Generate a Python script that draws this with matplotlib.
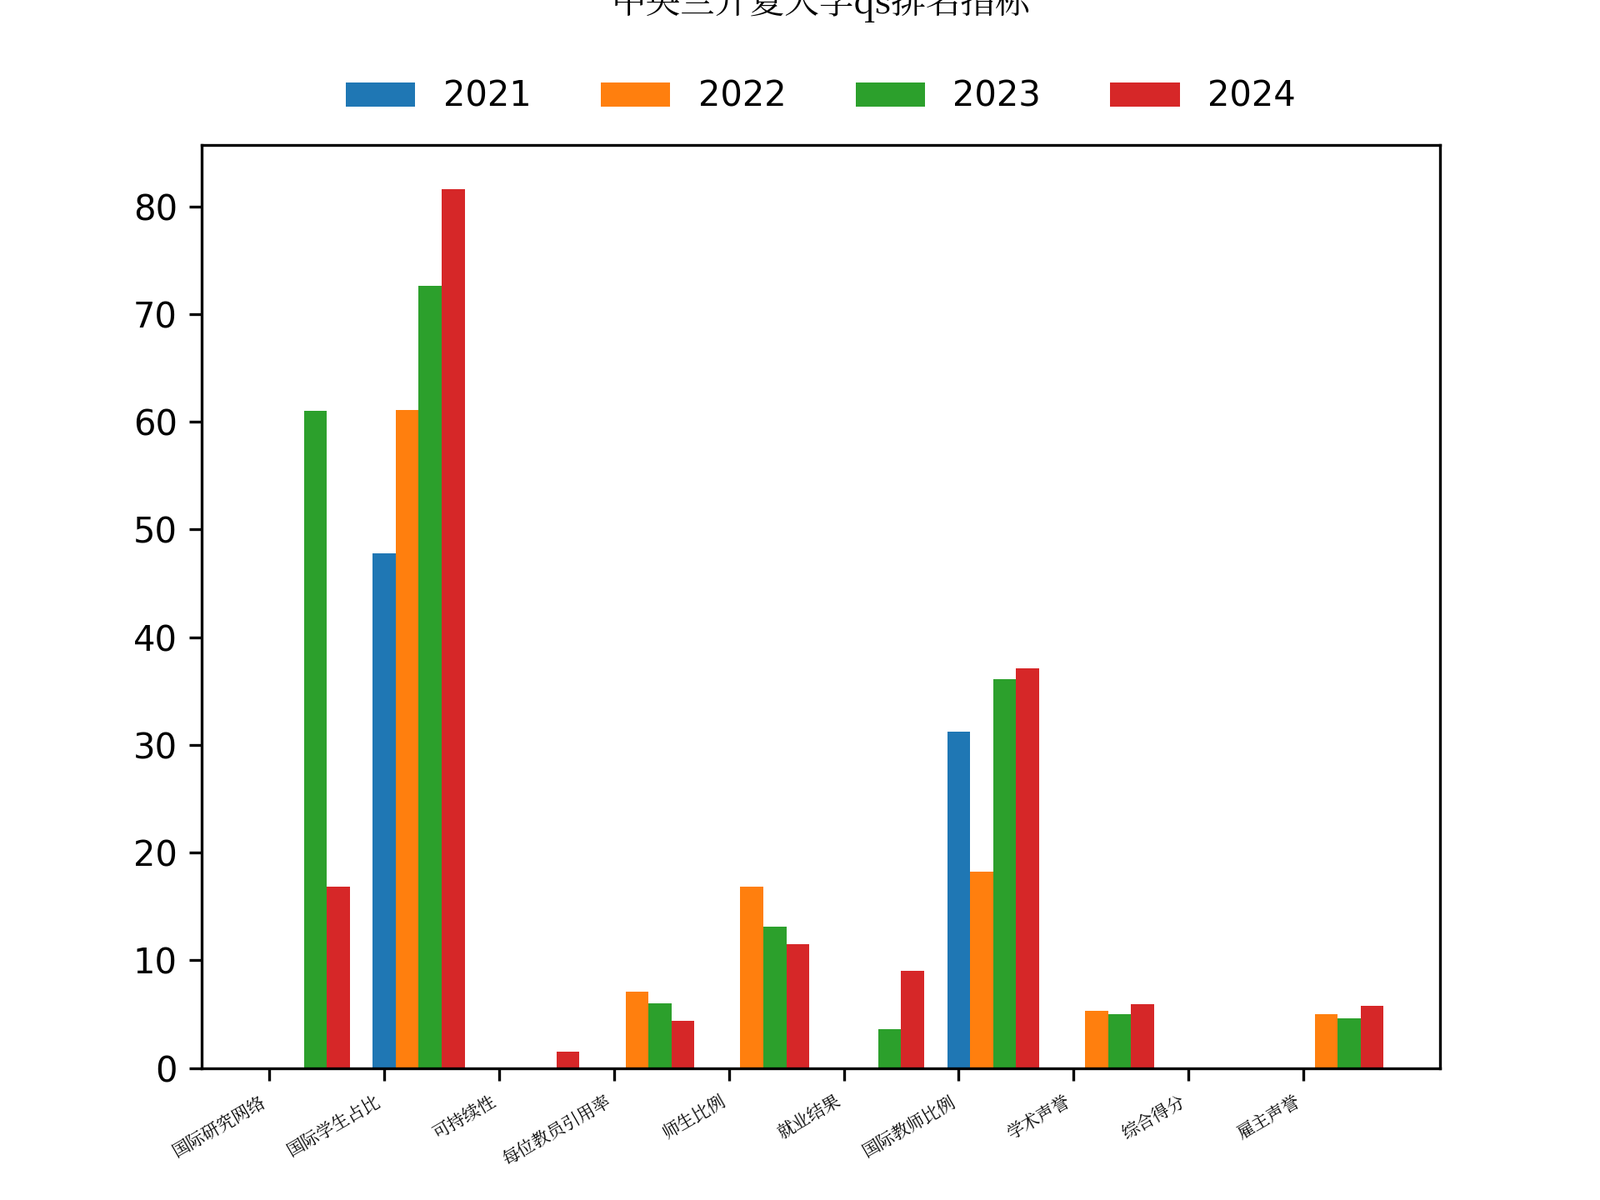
import matplotlib
matplotlib.use("Agg")
import matplotlib.pyplot as plt
from matplotlib import font_manager as fm
import numpy as np

cjk = None
for f in fm.fontManager.ttflist:
    if 'CJK' in f.name and ('SC' in f.name or cjk is None):
        cjk = f.name
        if 'SC' in f.name:
            break
cjk = cjk or 'Noto Sans CJK SC'
plt.rcParams['font.family'] = 'sans-serif'
plt.rcParams['font.sans-serif'] = ['DejaVu Sans', cjk]

categories = ['国际研究网络', '国际学生占比', '可持续性', '每位教员引用率', '师生比例',
              '就业结果', '国际教师比例', '学术声誉', '综合得分', '雇主声誉']
years = ['2021', '2022', '2023', '2024']
v2021 = [0, 47.8, 0, 0, 0, 0, 31.2, 0, 0, 0]
v2022 = [0, 61.1, 0, 7.1, 16.8, 0, 18.2, 5.3, 0, 5.0]
v2023 = [61.0, 72.6, 0, 6.0, 13.1, 3.6, 36.1, 5.0, 0, 4.6]
v2024 = [16.8, 81.6, 1.5, 4.4, 11.5, 9.0, 37.1, 5.9, 0, 5.8]
series = [v2021, v2022, v2023, v2024]
colors = ['#1f77b4', '#ff7f0e', '#2ca02c', '#d62728']

fig, ax = plt.subplots(figsize=(6.4, 4.8), dpi=300)
x = np.arange(len(categories))
w = 0.2
for i, (vals, c, y) in enumerate(zip(series, colors, years)):
    ax.bar(x + i * w, vals, w, color=c, label=y)
ax.set_xticks(x)
ax.set_xticklabels(categories, rotation=30, fontsize=5, fontfamily=cjk, ha='right')
ax.set_title('中央兰开夏大学qs排名指标', fontfamily=cjk, fontsize=10, pad=38)
ax.legend(loc='lower center', bbox_to_anchor=(0.5, 1.0), ncol=4, frameon=False, fontsize=10)
plt.subplots_adjust(left=0.126, right=0.9, top=0.879, bottom=0.11)
fig.savefig('out.png', dpi=300)
